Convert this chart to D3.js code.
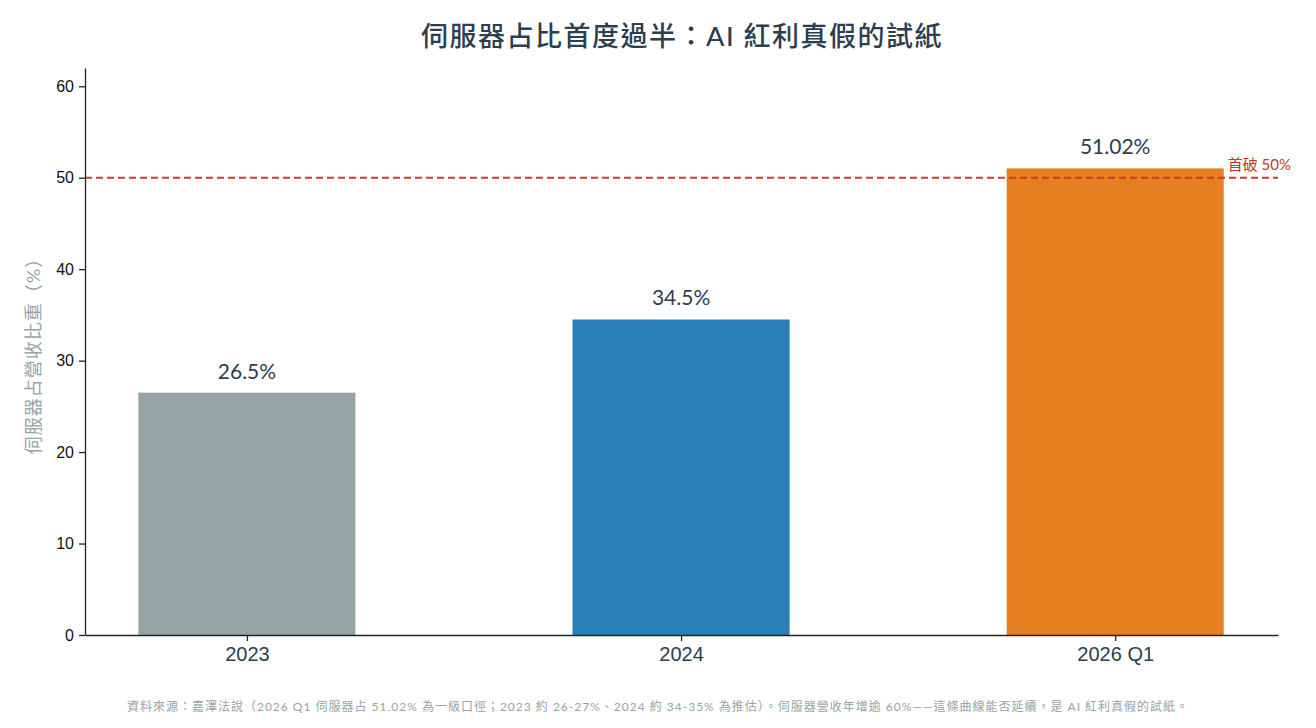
<!DOCTYPE html>
<html>
<head>
<meta charset="utf-8">
<script src="https://cdn.jsdelivr.net/npm/d3@7"></script>
<style>
  body { margin: 0; background: #fff; }
  svg { display: block; font-family: "Lato", "Noto Sans CJK TC", sans-serif; }
</style>
</head>
<body>
<svg id="chart" width="1316" height="728"></svg>
<script>
const categories = ["2023", "2024", "2026 Q1"];
const shares = [26.5, 34.5, 51.02];
const barColors = ["#95a5a6", "#2980b9", "#e67e22"];
const yTicks = [0, 10, 20, 30, 40, 50, 60];
const threshold = 50;

const width = 1316, height = 728;
const margin = { top: 68, right: 38, bottom: 93, left: 85 };
const innerW = width - margin.left - margin.right;
const innerH = height - margin.top - margin.bottom;

const svg = d3.select("#chart");
const g = svg.append("g").attr("transform", `translate(${margin.left},${margin.top})`);

// categorical positions 0,1,2 with bar width 0.5 (matplotlib-like spacing)
const x = d3.scaleLinear().domain([-0.373, 2.375]).range([0, innerW]);
const y = d3.scaleLinear().domain([0, 62]).range([innerH, 0]);
const barW = x(0.5) - x(0);

// bars
g.selectAll(".bar")
  .data(shares)
  .join("rect")
  .attr("class", "bar")
  .attr("x", (d, i) => x(i) - barW / 2)
  .attr("y", d => y(d))
  .attr("width", barW)
  .attr("height", d => innerH - y(d))
  .attr("fill", (d, i) => barColors[i]);

// threshold line
g.append("line")
  .attr("x1", 0).attr("x2", innerW)
  .attr("y1", y(threshold)).attr("y2", y(threshold))
  .attr("stroke", "#d0392b")
  .attr("stroke-width", 2)
  .attr("stroke-dasharray", "7,4");

g.append("text")
  .attr("x", x(2) + barW / 2 + 4)
  .attr("y", y(threshold) - 8)
  .attr("fill", "#c0392b")
  .attr("font-size", 15)
  .text("首破 50%");

// value labels
g.selectAll(".label")
  .data(shares)
  .join("text")
  .attr("class", "label")
  .attr("x", (d, i) => x(i))
  .attr("y", d => y(d) - 14)
  .attr("text-anchor", "middle")
  .attr("font-size", 21)
  .attr("fill", "#2c3e50")
  .text(d => d + "%");

// axes
const yAxis = g.append("g")
  .call(d3.axisLeft(y).tickValues(yTicks).tickSize(6).tickSizeOuter(0).tickPadding(5));
yAxis.select(".domain").attr("stroke", "#222").attr("stroke-width", 1.3);
yAxis.selectAll(".tick line").attr("stroke", "#222").attr("stroke-width", 1.3);
yAxis.selectAll(".tick text").attr("font-size", 16).attr("fill", "#111");

const xAxis = g.append("g")
  .attr("transform", `translate(0,${innerH})`)
  .call(d3.axisBottom(x).tickValues([0, 1, 2]).tickFormat(i => categories[i]).tickSize(6).tickSizeOuter(0).tickPadding(6));
xAxis.select(".domain").attr("stroke", "#222").attr("stroke-width", 1.3);
xAxis.selectAll(".tick line").attr("stroke", "#222").attr("stroke-width", 1.3);
xAxis.selectAll(".tick text").attr("font-size", 20).attr("fill", "#2c3e50");

// y label
svg.append("text")
  .attr("transform", `translate(40,${margin.top + innerH / 2}) rotate(-90)`)
  .attr("text-anchor", "middle")
  .attr("font-size", 18)
  .attr("letter-spacing", 1)
  .attr("fill", "#95a5a6")
  .text("伺服器占營收比重（%）");

// title
svg.append("text")
  .attr("x", 682).attr("y", 46)
  .attr("text-anchor", "middle")
  .attr("font-size", 27)
  .attr("font-weight", 500)
  .attr("letter-spacing", 1.5)
  .attr("fill", "#2c3e50")
  .text("伺服器占比首度過半：AI 紅利真假的試紙");

// source note
svg.append("text")
  .attr("x", 658).attr("y", 711)
  .attr("text-anchor", "middle")
  .attr("font-size", 12)
  .attr("letter-spacing", 1)
  .attr("fill", "#95a5a6")
  .text("資料來源：嘉澤法說（2026 Q1 伺服器占 51.02% 為一級口徑；2023 約 26-27%、2024 約 34-35% 為推估）。伺服器營收年增逾 60%——這條曲線能否延續，是 AI 紅利真假的試紙。");
</script>
</body>
</html>
